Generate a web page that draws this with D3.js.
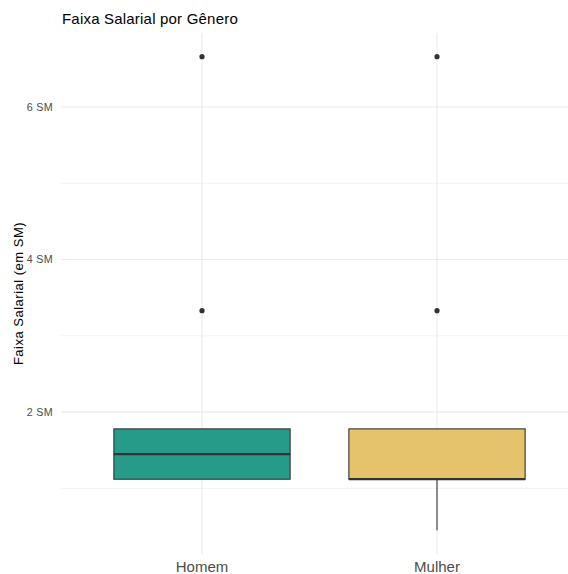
<html>
<head>
    <script src="https://d3js.org/d3.v7.min.js"></script>
    <style>
        body { margin: 0; background: #fff; }
        text { font-family: "Liberation Sans", Arial, sans-serif; }
    </style>
</head>
<body>
    <script>
        // data (values in SM)
        const categories = ['Homem', 'Mulher']
        const colors = ['#279B8A', '#E5C36A']
        const whiskerLow = [1.12, 0.45]
        const q1 = [1.12, 1.12]
        const median = [1.45, 1.12]
        const q3 = [1.78, 1.78]
        const whiskerHigh = [1.78, 1.78]
        const outliers = [[3.33, 6.66], [3.33, 6.66]]
        const yTicks = [2, 4, 6]
        const yMinor = [1, 3, 5]

        const width = 568, height = 574
        const panel = { left: 61, right: 578, top: 33, bottom: 554 }

        const boxes = categories.map((c, i) => ({
            cat: c, color: colors[i], lo: whiskerLow[i], q1: q1[i], med: median[i],
            q3: q3[i], hi: whiskerHigh[i], out: outliers[i]
        }))

        const allVals = boxes.flatMap(b => [b.lo, b.hi, ...b.out])
        const lo = d3.min(allVals), hi = d3.max(allVals)
        const pad = (hi - lo) * 0.05

        const y = d3.scaleLinear()
            .domain([lo - pad, hi + pad])
            .range([panel.bottom, panel.top])

        // discrete axis with 0.6 expansion on each side
        const x = d3.scalePoint()
            .domain(categories)
            .range([panel.left, panel.right])
            .padding(0.6)
        const step = x.step()
        const boxW = step * 0.75

        const svg = d3.select('body').append('svg')
            .attr('width', width)
            .attr('height', height)

        const grid = svg.append('g')
        grid.selectAll('line.minor')
            .data(yMinor)
            .enter()
            .append('line')
            .attr('x1', panel.left).attr('x2', panel.right)
            .attr('y1', d => y(d)).attr('y2', d => y(d))
            .attr('stroke', '#EBEBEB').attr('stroke-width', 0.6)
        grid.selectAll('line.major')
            .data(yTicks)
            .enter()
            .append('line')
            .attr('x1', panel.left).attr('x2', panel.right)
            .attr('y1', d => y(d)).attr('y2', d => y(d))
            .attr('stroke', '#EBEBEB').attr('stroke-width', 1.1)
        grid.selectAll('line.vert')
            .data(categories)
            .enter()
            .append('line')
            .attr('x1', d => x(d)).attr('x2', d => x(d))
            .attr('y1', panel.top).attr('y2', panel.bottom)
            .attr('stroke', '#EBEBEB').attr('stroke-width', 1.1)

        // y tick labels
        svg.selectAll('text.ytick')
            .data(yTicks)
            .enter()
            .append('text')
            .attr('x', 53)
            .attr('y', d => y(d) + 3.8)
            .attr('text-anchor', 'end')
            .attr('font-size', '10.7px')
            .attr('letter-spacing', '0.3px')
            .attr('fill', '#4D4D4D')
            .text(d => d + ' SM')

        // x tick labels
        svg.selectAll('text.xtick')
            .data(categories)
            .enter()
            .append('text')
            .attr('x', d => x(d))
            .attr('y', 571.5)
            .attr('text-anchor', 'middle')
            .attr('font-size', '15px')
            .attr('fill', '#4D4D4D')
            .text(d => d)

        // boxes
        const g = svg.append('g')
        const bx = g.selectAll('g.box')
            .data(boxes)
            .enter()
            .append('g')

        bx.append('line')
            .attr('x1', d => x(d.cat)).attr('x2', d => x(d.cat))
            .attr('y1', d => y(d.lo)).attr('y2', d => y(d.q1))
            .attr('stroke', '#333333').attr('stroke-width', 1.1)
        bx.append('line')
            .attr('x1', d => x(d.cat)).attr('x2', d => x(d.cat))
            .attr('y1', d => y(d.q3)).attr('y2', d => y(d.hi))
            .attr('stroke', '#333333').attr('stroke-width', 1.1)
        bx.append('rect')
            .attr('x', d => x(d.cat) - boxW / 2)
            .attr('width', boxW)
            .attr('y', d => y(d.q3))
            .attr('height', d => y(d.q1) - y(d.q3))
            .attr('fill', d => d.color)
            .attr('stroke', '#333333')
            .attr('stroke-width', 1.1)
        bx.append('line')
            .attr('x1', d => x(d.cat) - boxW / 2).attr('x2', d => x(d.cat) + boxW / 2)
            .attr('y1', d => y(d.med)).attr('y2', d => y(d.med))
            .attr('stroke', '#333333').attr('stroke-width', 2.2)

        bx.each(function (d) {
            d3.select(this).selectAll('circle')
                .data(d.out)
                .enter()
                .append('circle')
                .attr('cx', x(d.cat))
                .attr('cy', v => y(v))
                .attr('r', 2.6)
                .attr('fill', '#333333')
        })

        // titles
        svg.append('text')
            .attr('x', 62)
            .attr('y', 24)
            .attr('font-size', '15px')
            .attr('letter-spacing', '0.2px')
            .attr('fill', '#000')
            .text('Faixa Salarial por Gênero')

        svg.append('text')
            .attr('transform', `translate(23, ${(panel.top + panel.bottom) / 2}) rotate(-90)`)
            .attr('text-anchor', 'middle')
            .attr('font-size', '13px')
            .attr('letter-spacing', '0.5px')
            .attr('fill', '#000')
            .text('Faixa Salarial (em SM)')
    </script>
</body>
</html>
